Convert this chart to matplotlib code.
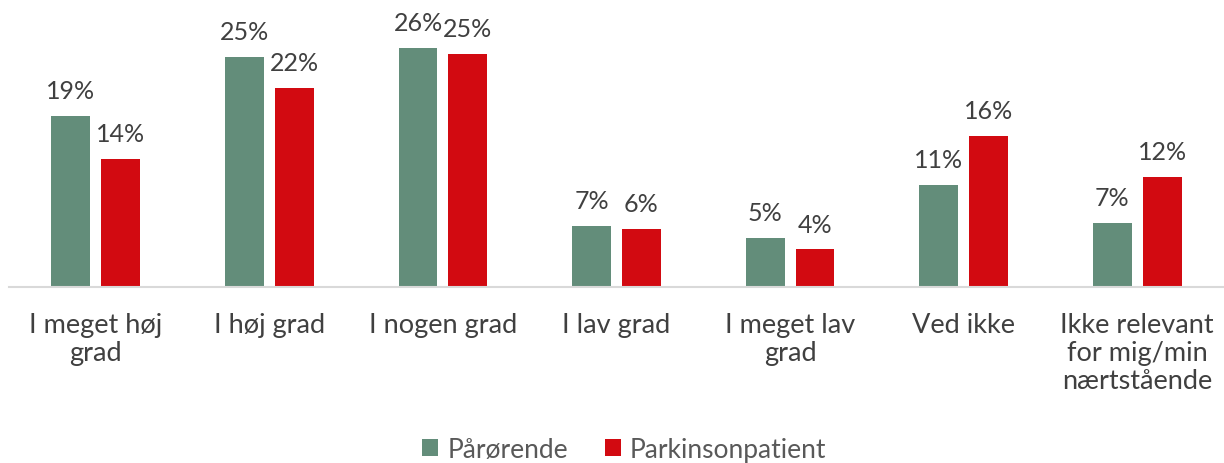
import matplotlib
matplotlib.use("Agg")
import matplotlib.pyplot as plt
import numpy as np

categories = ["I meget høj\ngrad", "I høj grad", "I nogen grad", "I lav grad",
              "I meget lav\ngrad", "Ved ikke", "Ikke relevant\nfor mig/min\nnærtstående"]
series_names = ["Pårørende", "Parkinsonpatient"]
parorende = [18.6, 25.0, 26.0, 6.6, 5.3, 11.1, 7.0]
patient = [13.9, 21.6, 25.3, 6.3, 4.1, 16.4, 12.0]
colors = ["#638D7A", "#D20A11"]

plt.rcParams['font.family'] = ['Lato', 'DejaVu Sans']

fig = plt.figure(figsize=(12.24, 4.64), dpi=100)
ax = fig.add_axes([0.0074, 0.379, 0.9926, 0.621])

x = np.arange(len(categories))
w = 0.224
gap = 0.063
off = (w + gap) / 2
b1 = ax.bar(x - off, parorende, w, color=colors[0], label=series_names[0])
b2 = ax.bar(x + off, patient, w, color=colors[1], label=series_names[1])

for bars, vals in ((b1, parorende), (b2, patient)):
    for b, v in zip(bars, vals):
        ax.annotate(f"{v:.0f}%", (b.get_x() + b.get_width() / 2, b.get_height()),
                    xytext=(0, 10), textcoords="offset points", ha="center", va="bottom",
                    fontsize=18, color="#404040")

ax.set_xlim(-0.5, len(categories) - 0.5)
ax.set_ylim(0, 31.3)
ax.set_yticks([])
ax.set_xticks(x)
ax.set_xticklabels(categories, fontsize=19.5, color="#404040", linespacing=1.15)
ax.tick_params(axis="x", length=0, pad=18)
for s in ["top", "right", "left"]:
    ax.spines[s].set_visible(False)
ax.spines["bottom"].set_color("#D9D9D9")
ax.spines["bottom"].set_linewidth(1.5)

leg = fig.legend(handles=[b1, b2], labels=series_names, loc="center", bbox_to_anchor=(0.51, 0.03),
                 ncol=2, frameon=False, fontsize=19, handlelength=0.6, handleheight=0.6,
                 handletextpad=0.35, columnspacing=1.4)
for t in leg.get_texts():
    t.set_color("#595959")

fig.savefig("out.png", dpi=100)
